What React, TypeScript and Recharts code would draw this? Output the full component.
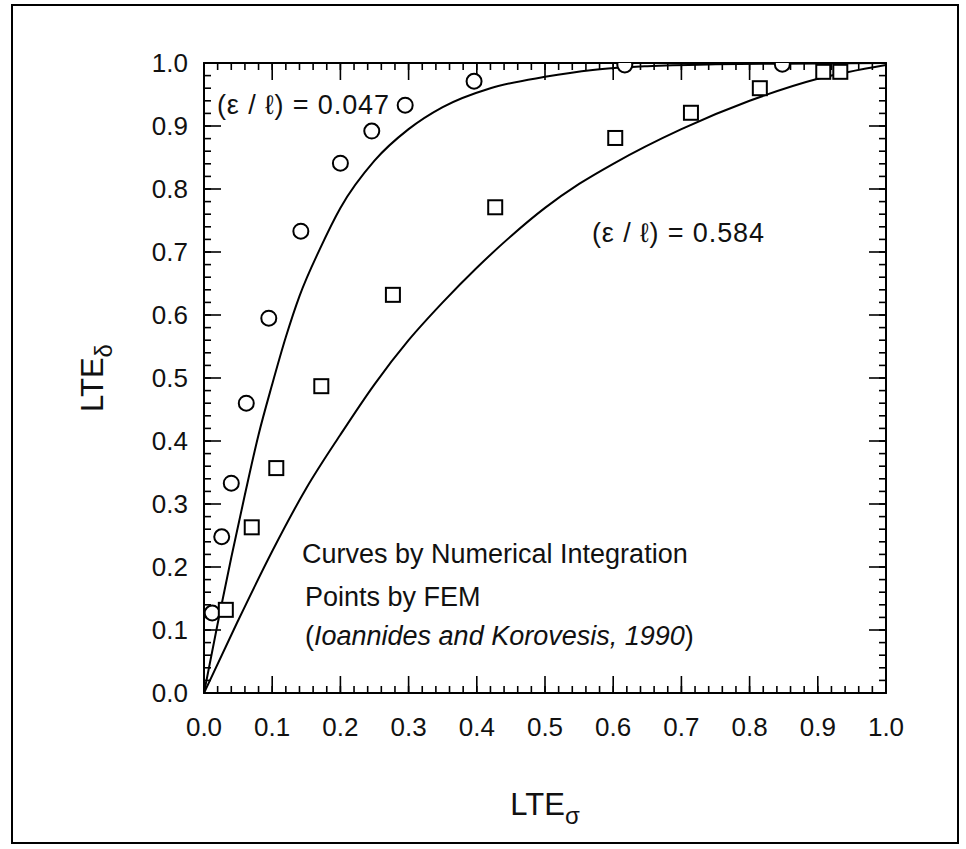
import React from "react";
import { ComposedChart, XAxis, YAxis, Line, Scatter } from "recharts";

// FEM points, eps/l = 0.047 (circles)
const circleX = [0.012, 0.026, 0.04, 0.062, 0.095, 0.142, 0.2, 0.246, 0.295, 0.396, 0.617, 0.848];
const circleY = [0.127, 0.248, 0.333, 0.46, 0.595, 0.733, 0.841, 0.892, 0.933, 0.971, 0.997, 0.998];

// FEM points, eps/l = 0.584 (squares)
const squareX = [0.032, 0.07, 0.106, 0.172, 0.277, 0.427, 0.603, 0.714, 0.815, 0.908, 0.933];
const squareY = [0.132, 0.263, 0.357, 0.487, 0.632, 0.771, 0.881, 0.921, 0.96, 0.986, 0.986];

// numerical integration curve, eps/l = 0.047
const curveSmallX = [0, 0.02, 0.04, 0.06, 0.08, 0.1, 0.12, 0.14, 0.17, 0.2, 0.25, 0.3, 0.35, 0.42, 0.5, 0.57, 0.65, 0.75, 0.85, 1.0];
const curveSmallY = [0, 0.11, 0.215, 0.315, 0.41, 0.49, 0.565, 0.63, 0.705, 0.77, 0.845, 0.895, 0.93, 0.96, 0.978, 0.989, 0.995, 0.998, 0.999, 1.0];

// numerical integration curve, eps/l = 0.584
const curveLargeX = [0, 0.05, 0.1, 0.15, 0.2, 0.25, 0.3, 0.35, 0.4, 0.45, 0.5, 0.55, 0.6, 0.7, 0.8, 0.9, 1.0];
const curveLargeY = [0, 0.115, 0.225, 0.325, 0.41, 0.49, 0.56, 0.62, 0.675, 0.725, 0.77, 0.808, 0.84, 0.895, 0.94, 0.975, 0.997];

const tickLabels = ["0.0", "0.1", "0.2", "0.3", "0.4", "0.5", "0.6", "0.7", "0.8", "0.9", "1.0"];
const majorTicks = tickLabels.map(Number);
// minor marks every 0.02
const minorTicks = Array.from({ length: 51 }, (_, i) => i / 50);

const toPoints = (xs: number[], ys: number[]) => xs.map((x, i) => ({ x, y: ys[i] }));
const circles = toPoints(circleX, circleY);
const squares = toPoints(squareX, squareY);
const curveSmall = toPoints(curveSmallX, curveSmallY);
const curveLarge = toPoints(curveLargeX, curveLargeY);

const FONT = "'Liberation Sans', Arial, Helvetica, sans-serif";
const W = 966;
const H = 849;
const MAJOR = 17;
const MINOR = 8;

const labelOf = (v: number) => tickLabels[Math.round(v * 10)];

// tick label renderers; the inward tick marks come from tickLine with a negative tickSize,
// so the label anchor (x, y) sits MAJOR px inside the frame
const BottomLabel = ({ x, y, payload }: any) => (
  <text x={x} y={y + MAJOR + 43} textAnchor="middle" fontSize={26} fontFamily={FONT} fill="#111">
    {labelOf(payload.value)}
  </text>
);

const LeftLabel = ({ x, y, payload }: any) => (
  <text x={x - MAJOR - 16} y={y + 9} textAnchor="end" fontSize={26} fontFamily={FONT} fill="#111">
    {labelOf(payload.value)}
  </text>
);

// tick={false} drops the tick lines too, so unlabeled axes get an empty label instead
const NoLabel = () => <g />;

const CircleMark = ({ cx, cy }: any) => (
  <circle cx={cx} cy={cy} r={7.5} fill="#fff" stroke="#000" strokeWidth={2} />
);

const SquareMark = ({ cx, cy }: any) => (
  <rect x={cx - 7} y={cy - 7} width={14} height={14} fill="#fff" stroke="#000" strokeWidth={2} />
);

const NoMark = () => <g />;

const axisLine = { stroke: "#000", strokeWidth: 2 };
const tickLine = { stroke: "#000", strokeWidth: 1.6 };

const common = {
  type: "number" as const,
  domain: [0, 1],
  interval: 0 as const,
  tickMargin: 0,
  allowDataOverflow: true,
};

export default function App() {
  return (
    <div style={{ position: "absolute", left: 0, top: 0, width: W, height: H, background: "#fff" }}>
      {/* each side has a 1px major axis next to the frame and a 1px minor axis behind it */}
      <ComposedChart width={W} height={H} margin={{ top: 61, left: 202, right: 78, bottom: 154 }}>
        <XAxis {...common} xAxisId="bottom" dataKey="x" ticks={majorTicks} height={1} tickSize={-MAJOR} tickLine={tickLine} axisLine={axisLine} tick={BottomLabel} />
        <XAxis {...common} xAxisId="bottomMinor" dataKey="x" ticks={minorTicks} height={1} tickSize={-MINOR} tickLine={tickLine} axisLine={false} tick={NoLabel} />
        <XAxis {...common} xAxisId="top" orientation="top" dataKey="x" ticks={majorTicks} height={1} tickSize={-MAJOR} tickLine={tickLine} axisLine={axisLine} tick={NoLabel} />
        <XAxis {...common} xAxisId="topMinor" orientation="top" dataKey="x" ticks={minorTicks} height={1} tickSize={-MINOR} tickLine={tickLine} axisLine={false} tick={NoLabel} />

        <YAxis {...common} yAxisId="left" dataKey="y" ticks={majorTicks} width={1} tickSize={-MAJOR} tickLine={tickLine} axisLine={axisLine} tick={LeftLabel} />
        <YAxis {...common} yAxisId="leftMinor" dataKey="y" ticks={minorTicks} width={1} tickSize={-MINOR} tickLine={tickLine} axisLine={false} tick={NoLabel} />
        <YAxis {...common} yAxisId="right" orientation="right" dataKey="y" ticks={majorTicks} width={1} tickSize={-MAJOR} tickLine={tickLine} axisLine={axisLine} tick={NoLabel} />
        <YAxis {...common} yAxisId="rightMinor" orientation="right" dataKey="y" ticks={minorTicks} width={1} tickSize={-MINOR} tickLine={tickLine} axisLine={false} tick={NoLabel} />

        <Line data={curveSmall} dataKey="y" xAxisId="bottom" yAxisId="left" type="monotone" stroke="#000" strokeWidth={2} dot={false} isAnimationActive={false} />
        <Line data={curveLarge} dataKey="y" xAxisId="bottom" yAxisId="left" type="monotone" stroke="#000" strokeWidth={2} dot={false} isAnimationActive={false} />
        <Scatter data={circles} xAxisId="bottom" yAxisId="left" shape={CircleMark} isAnimationActive={false} />
        <Scatter data={squares} xAxisId="bottom" yAxisId="left" shape={SquareMark} isAnimationActive={false} />

        {/* the mirrored and minor axes get their domain from these hidden copies */}
        <Scatter data={circles} xAxisId="bottomMinor" yAxisId="leftMinor" shape={NoMark} isAnimationActive={false} />
        <Scatter data={circles} xAxisId="top" yAxisId="right" shape={NoMark} isAnimationActive={false} />
        <Scatter data={circles} xAxisId="topMinor" yAxisId="rightMinor" shape={NoMark} isAnimationActive={false} />
      </ComposedChart>

      {/* frame, annotations and axis titles */}
      <svg
        width={W}
        height={H}
        style={{ position: "absolute", left: 0, top: 0, pointerEvents: "none" }}
        fontFamily={FONT}
        fill="#111"
      >
        <rect x={12} y={5} width={946} height={838} fill="none" stroke="#000" strokeWidth={2} />
        <text x={217} y={114} fontSize={27} textLength={172} lengthAdjust="spacing">
          (ε / ℓ) = 0.047
        </text>
        <text x={592} y={242} fontSize={27} textLength={172} lengthAdjust="spacing">
          (ε / ℓ) = 0.584
        </text>
        <text x={302} y={563} fontSize={27}>
          Curves by Numerical Integration
        </text>
        <text x={305} y={606} fontSize={27}>
          Points by FEM
        </text>
        <text x={305} y={645} fontSize={27}>
          (<tspan fontStyle="italic">Ioannides and Korovesis, 1990</tspan>)
        </text>
        <text x={545} y={815} fontSize={31} textAnchor="middle">
          LTE
          <tspan fontSize={24} dy={9}>σ</tspan>
        </text>
        <text x={0} y={0} fontSize={31} textAnchor="middle" transform="translate(103, 378) rotate(-90)">
          LTE
          <tspan fontSize={24} dy={9}>δ</tspan>
        </text>
      </svg>
    </div>
  );
}
